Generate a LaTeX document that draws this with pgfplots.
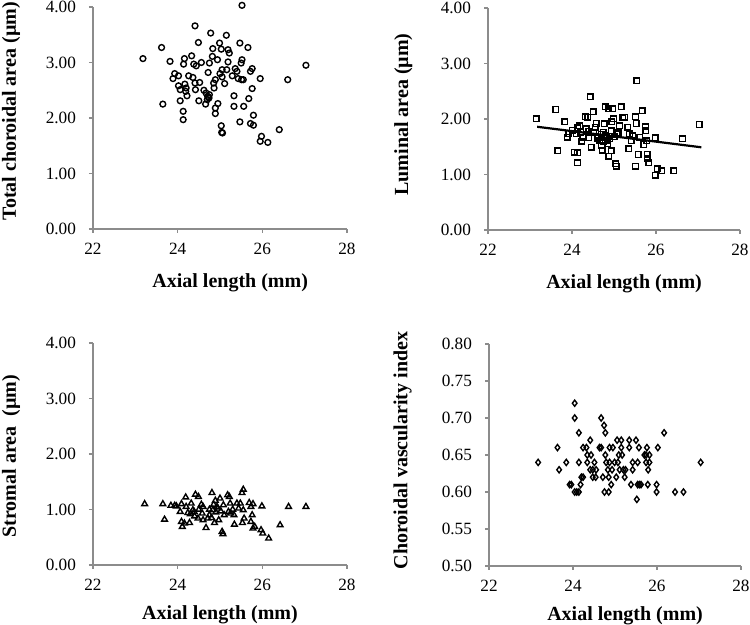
\documentclass[border=0pt]{standalone}
\usepackage{pgfplots}
\pgfplotsset{compat=1.18}
\usepackage{fontspec}
\setmainfont{Liberation Serif}
\pgfplotsset{
  panel/.style={
    width=127pt, height=111pt, scale only axis,
    axis x line*=bottom, axis y line*=left,
    axis line style={draw=black!45, line width=0.6pt, -},
    tick style={draw=black!45, line width=0.6pt},
    tick align=outside, major tick length=2pt,
    xmin=22, xmax=28, xtick={22,24,26,28},
    /pgf/number format/assume math mode=true,
    tick label style={font=\fontsize{8.6}{10}\selectfont},
    yticklabel style={/pgf/number format/fixed, /pgf/number format/fixed zerofill, /pgf/number format/precision=2, xshift=-3pt},
    xticklabel style={yshift=-1.5pt},
    label style={font=\bfseries\fontsize{10}{12}\selectfont},
    xlabel={Axial length (mm)},
    clip=false,
  },
  pts/.style={only marks, mark options={line width=0.7pt, draw=black, fill=white}},
}
\begin{document}
\begin{tikzpicture}
\path[use as bounding box] (0,0) rectangle (375pt,312.5pt);
% Panel 1
\begin{axis}[panel, at={(46.5pt,198pt)}, anchor=south west,
  ymin=0, ymax=4, ytick={0,1,2,3,4},
  ylabel={Total choroidal area (\textmu m)},
  ylabel style={at={(axis description cs:-0.323,0.53)}, anchor=center},
  xlabel style={at={(axis description cs:0.54,-0.243)}, anchor=center}]
\addplot[pts, mark=o, mark size=1.45pt] coordinates {
(23.18,3.07) (23.62,3.27) (23.65,2.25) (23.82,3.02) (23.89,2.71) (23.93,2.80)
(24.02,2.76) (24.02,2.58) (24.06,2.51) (24.06,2.31) (24.13,2.12) (24.13,1.97)
(24.16,3.07) (24.14,2.97) (24.17,2.61) (24.20,2.54) (24.22,2.40) (24.19,2.48)
(24.26,2.76) (24.33,3.12) (24.36,2.73) (24.38,2.97) (24.41,3.66) (24.42,2.51)
(24.44,2.94) (24.41,2.63) (24.49,3.36) (24.50,2.31) (24.52,2.64) (24.56,3.00)
(24.62,2.50) (24.66,2.25) (24.67,2.45) (24.71,2.39) (24.74,2.36) (24.75,2.42)
(24.72,2.82) (24.78,3.53) (24.75,2.99) (24.82,3.11) (24.83,3.25) (24.85,2.63)
(24.86,2.54) (24.89,2.69) (24.89,2.18) (24.89,2.08) (24.95,2.26) (24.94,3.05)
(24.99,3.35) (25.00,2.80) (25.03,3.24) (25.03,1.86) (25.04,1.74) (25.05,2.74)
(25.05,2.87) (25.11,2.62) (25.15,3.49) (25.19,3.01) (25.19,3.23) (25.22,3.17)
(25.16,2.87) (25.29,2.76) (25.33,2.40) (25.33,2.21) (25.36,2.89) (25.40,2.84)
(25.43,2.71) (25.47,3.35) (25.47,1.93) (25.50,2.99) (25.52,4.03) (25.52,3.05)
(25.51,2.69) (25.55,2.69) (25.56,2.21) (25.66,3.27) (25.68,2.35) (25.72,2.84)
(25.76,2.89) (25.76,2.53) (25.72,1.90) (25.79,1.87) (25.79,2.05) (25.95,2.71)
(25.98,1.67) (25.95,1.58) (26.13,1.56) (26.40,1.79) (26.60,2.69) (27.03,2.95)
(24.72,2.38) (24.70,2.33) (25.06,1.73)
};
\end{axis}
% Panel 2
\begin{axis}[panel, width=126pt, at={(244pt,197.5pt)}, anchor=south west,
  ymin=0, ymax=4, ytick={0,1,2,3,4},
  ylabel={Luminal area (\textmu m)},
  ylabel style={at={(axis description cs:-0.336,0.52)}, anchor=center},
  xlabel style={at={(axis description cs:0.54,-0.243)}, anchor=center}]
\addplot[pts, mark=square, mark size=1.4pt] coordinates {
(23.15,2.00) (23.61,2.17) (23.66,1.43) (23.83,1.95) (23.89,1.67) (23.92,1.74)
(24.01,1.80) (24.05,1.40) (24.13,1.39) (24.13,1.21) (24.10,1.73) (24.14,1.84)
(24.18,1.88) (24.21,1.76) (24.23,1.60) (24.26,1.67) (24.31,2.04) (24.34,1.82)
(24.38,2.03) (24.43,2.40) (24.40,1.66) (24.46,1.49) (24.50,2.13) (24.51,1.76)
(24.58,1.92) (24.62,1.67) (24.66,1.61) (24.70,1.52) (24.72,1.44) (24.74,1.76)
(24.77,1.91) (24.79,2.22) (24.81,1.66) (24.85,1.55) (24.88,2.18) (24.88,1.33)
(24.93,1.43) (24.93,1.79) (24.97,2.18) (24.99,2.00) (25.04,1.19) (25.05,1.15)
(25.07,1.72) (25.13,1.88) (25.17,2.22) (25.21,2.02) (25.25,2.03) (25.33,1.85)
(25.35,1.46) (25.37,1.73) (25.41,1.61) (25.45,1.70) (25.51,1.15) (25.51,2.04)
(25.53,1.92) (25.54,2.69) (25.58,1.36) (25.61,1.67) (25.67,2.15) (25.71,1.54)
(25.75,1.86) (25.76,1.79) (25.78,1.61) (25.79,1.36) (25.79,1.28) (25.83,1.21)
(25.98,1.66) (25.98,0.99) (26.03,1.10) (26.14,1.07) (26.42,1.07) (26.63,1.64)
(27.03,1.90) (24.60,1.65) (24.75,1.60) (24.80,1.70) (24.90,1.65) (24.85,1.62)
(24.70,1.72) (25.00,1.68) (25.10,1.75) (24.40,1.78) (24.55,1.85) (24.95,1.95)
};
\addplot[black, line width=1.1pt, no marks] coordinates {(23.17,1.86) (27.08,1.49)};
\end{axis}
% Panel 3
\begin{axis}[panel, at={(46.5pt,30pt)}, anchor=south west,
  ymin=0, ymax=4, ytick={0,1,2,3,4},
  ylabel={Stromal area\ \ (\textmu m)},
  ylabel style={at={(axis description cs:-0.323,0.49)}, anchor=center},
  xlabel style={at={(axis description cs:0.5,-0.222)}, anchor=center}]
\addplot[pts, mark=triangle, mark size=1.65pt] coordinates {
(23.22,1.10) (23.65,1.10) (23.69,0.82) (23.84,1.07) (23.93,1.07) (23.97,1.06)
(24.09,1.10) (24.06,0.96) (24.09,0.78) (24.11,0.69) (24.16,0.75) (24.19,1.22)
(24.20,1.05) (24.24,0.94) (24.28,0.76) (24.32,1.11) (24.36,0.99) (24.39,0.96)
(24.42,1.27) (24.49,1.23) (24.48,0.84) (24.56,1.09) (24.58,0.93) (24.60,0.81)
(24.67,0.67) (24.71,0.84) (24.75,0.90) (24.81,1.30) (24.83,0.99) (24.85,1.09)
(24.87,0.76) (24.89,1.16) (24.93,1.05) (24.97,0.81) (25.00,1.20) (25.02,0.97)
(25.05,0.60) (25.07,0.56) (25.08,1.08) (25.18,1.26) (25.22,1.23) (25.24,1.11)
(25.20,0.96) (25.25,0.93) (25.33,0.90) (25.34,0.73) (25.40,1.11) (25.44,1.02)
(25.48,1.11) (25.52,1.30) (25.55,1.36) (25.55,0.99) (25.53,0.76) (25.57,0.84)
(25.69,1.12) (25.73,1.05) (25.78,1.10) (25.76,0.90) (25.73,0.78) (25.78,0.66)
(25.82,0.69) (25.99,1.06) (25.97,0.63) (26.01,0.57) (26.15,0.48) (26.42,0.72)
(26.62,1.05) (27.03,1.05) (24.50,1.00) (24.60,1.05) (24.90,0.95) (24.75,1.00)
(25.10,0.90) (24.40,0.88) (24.30,0.92) (25.30,1.00) (24.80,0.85) (24.95,1.02)
};
\end{axis}
% Panel 4
\begin{axis}[panel, width=126pt, at={(244.5pt,29.5pt)}, anchor=south west,
  ymin=0.5, ymax=0.8, ytick={0.5,0.55,0.6,0.65,0.7,0.75,0.8},
  ylabel={Choroidal vascularity index},
  ylabel style={at={(axis description cs:-0.343,0.52)}, anchor=center},
  xlabel style={at={(axis description cs:0.54,-0.222)}, anchor=center}]
\addplot[pts, mark=diamond, mark size=1.55pt] coordinates {
(23.17,0.64) (23.63,0.66) (23.67,0.63) (23.84,0.64) (23.92,0.61) (23.96,0.61)
(24.04,0.72) (24.04,0.70) (24.04,0.60) (24.09,0.60) (24.14,0.60) (24.14,0.68)
(24.14,0.64) (24.18,0.61) (24.20,0.62) (24.24,0.62) (24.24,0.66) (24.32,0.66)
(24.34,0.65) (24.41,0.67) (24.43,0.65) (24.41,0.63) (24.47,0.62) (24.47,0.63)
(24.51,0.64) (24.54,0.62) (24.55,0.63) (24.63,0.66) (24.67,0.66) (24.67,0.70)
(24.71,0.62) (24.74,0.69) (24.75,0.60) (24.77,0.65) (24.77,0.68) (24.79,0.64)
(24.83,0.63) (24.85,0.60) (24.85,0.62) (24.87,0.66) (24.87,0.64) (24.91,0.61)
(24.93,0.63) (24.95,0.66) (24.99,0.64) (25.03,0.62) (25.05,0.67) (25.07,0.64)
(25.09,0.65) (25.11,0.63) (25.15,0.66) (25.15,0.67) (25.17,0.65) (25.20,0.63)
(25.23,0.62) (25.25,0.63) (25.34,0.67) (25.34,0.66) (25.38,0.61) (25.42,0.63)
(25.50,0.67) (25.52,0.59) (25.54,0.64) (25.54,0.61) (25.57,0.66) (25.58,0.61)
(25.62,0.61) (25.70,0.65) (25.74,0.65) (25.76,0.66) (25.78,0.61) (25.79,0.63)
(25.74,0.64) (25.82,0.64) (25.82,0.65) (25.99,0.61) (25.99,0.60) (26.02,0.66)
(26.17,0.68) (26.43,0.60) (26.63,0.60) (27.04,0.64) (24.34,0.64) (25.42,0.64)
};
\end{axis}
\end{tikzpicture}
\end{document}
